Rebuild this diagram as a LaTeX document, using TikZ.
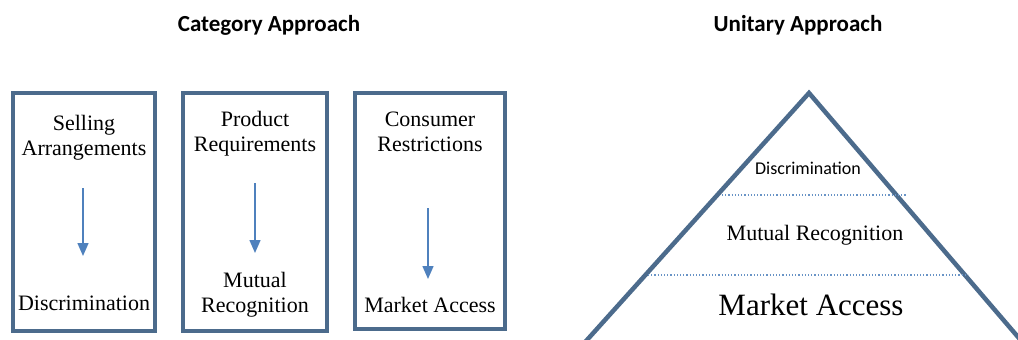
\documentclass[tikz,border=0pt]{standalone}
\usepackage{fontspec}
\setmainfont{Liberation Serif}
\newfontfamily\headfont{Carlito}
\usetikzlibrary{arrows.meta}
\definecolor{frameblue}{RGB}{76,107,140}
\definecolor{arrowblue}{RGB}{79,129,189}
\definecolor{dotblue}{RGB}{105,148,198}
\tikzset{
  framebox/.style={draw=frameblue, line width=4pt},
  heading/.style={font=\headfont\bfseries\fontsize{23}{27}\selectfont},
  boxtext/.style={align=center, font=\fontsize{22}{25}\selectfont, inner sep=0pt},
  flowarrow/.style={draw=arrowblue, line width=1.5pt, -{Triangle[width=11pt,length=13pt]}},
  layerline/.style={draw=dotblue, line width=1.2pt, dotted},
}
\begin{document}
\begin{tikzpicture}[x=1pt,y=-1pt]
\useasboundingbox (0,0) rectangle (1018,340);

% headings
\node[heading] (cathead) at (269,25) {Category Approach};
\node[heading] (unihead) at (798,25) {Unitary Approach};

% category boxes
\draw[framebox] (13,93) rectangle (155,331);
\draw[framebox] (183,93) rectangle (327,331);
\draw[framebox] (355,93) rectangle (505,329);

% box 1
\node[boxtext] (sell) at (84,138) {Selling\\Arrangements};
\node[boxtext] (disc) at (84,303) {Discrimination};
\coordinate (a1s) at (83,188);
\coordinate (a1e) at (83,256);
\draw[flowarrow] (a1s) -- (a1e);

% box 2
\node[boxtext] (prod) at (255,134) {Product\\Requirements};
\node[boxtext] (mutual) at (255,295) {Mutual\\Recognition};
\coordinate (a2s) at (255,183);
\coordinate (a2e) at (255,253);
\draw[flowarrow] (a2s) -- (a2e);

% box 3
\node[boxtext] (cons) at (430,132) {Consumer\\Restrictions};
\node[boxtext] (mkt) at (430,305) {Market Access};
\coordinate (a3s) at (428,208);
\coordinate (a3e) at (428,279);
\draw[flowarrow] (a3s) -- (a3e);

% pyramid
\begin{scope}
\clip (0,0) rectangle (1018,340);
\coordinate (apex) at (809,93);
\coordinate (pl) at (578,350);
\coordinate (pr) at (1024,344);
\draw[draw=frameblue, line width=4.5pt, line join=miter] (pl) -- (apex) -- (pr);
\end{scope}
\coordinate (u1) at (722,195);
\coordinate (u2) at (907,195);
\coordinate (l1) at (648,275);
\coordinate (l2) at (968,275);
\draw[layerline] (u1) -- (u2);
\draw[layerline] (l1) -- (l2);

\node[font=\headfont\fontsize{18}{21}\selectfont] (pdisc) at (808,168) {Discrimination};
\node[font=\fontsize{22}{26}\selectfont] (pmutual) at (815,235) {Mutual Recognition};
\node[font=\fontsize{31}{36}\selectfont] (pmkt) at (811,305) {Market Access};
\end{tikzpicture}
\end{document}
